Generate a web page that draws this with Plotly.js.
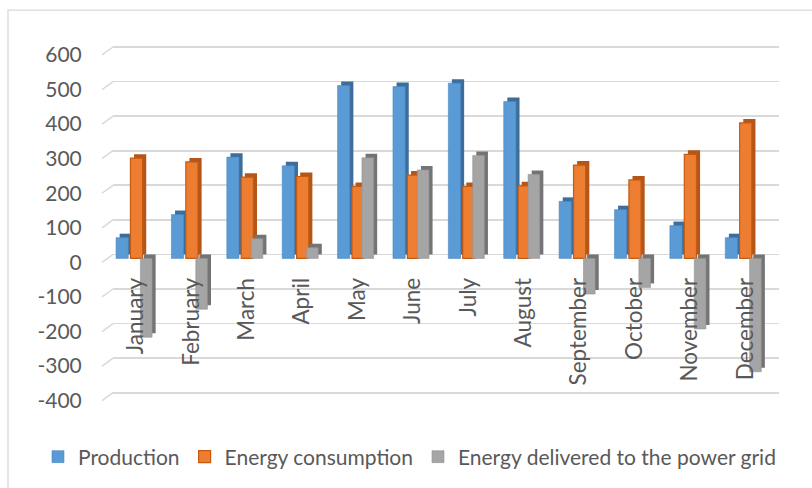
<!DOCTYPE html>
<html>
<head>
<meta charset="utf-8">
<script src="https://cdn.plot.ly/plotly-3.0.1.min.js"></script>
<style>
  html, body { margin: 0; padding: 0; background: #ffffff; }
  #chart { width: 812px; height: 488px; }
</style>
</head>
<body>
<div id="chart"></div>
<script>
// Monthly energy balance (kWh)
const months = ['January', 'February', 'March', 'April', 'May', 'June',
                'July', 'August', 'September', 'October', 'November', 'December'];
const production   = [60, 127, 293, 268, 500, 497, 507, 454, 165, 141, 95, 60];
const consumption  = [290, 279, 235, 237, 208, 241, 208, 210, 270, 227, 301, 392];
const gridDelivery = [-228, -147, 57, 31, 291, 256, 298, 243, -103, -84, -204, -328];
const yTicks = [-400, -300, -200, -100, 0, 100, 200, 300, 400, 500, 600];
const yTickText = ['-400', '-300', '-200', '-100', '0', '100', '200', '300', '400', '500', '600'];
const seriesNames = ['Production', 'Energy consumption', 'Energy delivered to the power grid'];

// Plot-area geometry (pixels) used to keep the pseudo-3D planes aligned
const W = 812, H = 488;
const M = { l: 113, r: 33, t: 30, b: 68 };
const plotTop = M.t, plotBottom = H - M.b;
const pxPerUnit = 0.3466;
function rangeForZero(zeroPx) {
  return [-(plotBottom - zeroPx) / pxPerUnit, (zeroPx - plotTop) / pxPerUnit];
}
const backZeroPx = 255;    // back wall (gridlines, column sides)
const frontZeroPx = 259;   // column faces
const labelZeroPx = 263;   // value labels on the front edge
const depthPx = 8;         // wall depth drawn on the left

const faceColors = ['#5b9bd5', '#ed7d31', '#a5a5a5'];
const sideColors = ['#3d6d9b', '#b4561a', '#747474'];
const edgeColors = ['#4a88c2', '#c55a11', '#939393'];
const offsets = [-0.36, -0.10, 0.08];
const widths = [0.22, 0.22, 0.21];
const sideShift = 0.065;
const values = [production, consumption, gridDelivery];

const traces = [];
// Column sides/tops: same values on the back plane, nudged right
values.forEach((v, i) => {
  traces.push({
    type: 'bar', x: months, y: v, xaxis: 'x', yaxis: 'y',
    offset: offsets[i] + sideShift, width: widths[i],
    marker: { color: sideColors[i], line: { width: 0 } },
    showlegend: false, hoverinfo: 'skip'
  });
});
// Column faces
values.forEach((v, i) => {
  traces.push({
    type: 'bar', x: months, y: v, xaxis: 'x', yaxis: 'y2',
    name: seriesNames[i],
    offset: offsets[i], width: widths[i],
    marker: { color: faceColors[i], line: { width: i === 1 ? 1.2 : 0.6, color: edgeColors[i] } }
  });
});
// Empty trace that carries the front-edge value axis
traces.push({ type: 'scatter', x: [], y: [], xaxis: 'x', yaxis: 'y3', showlegend: false, hoverinfo: 'skip' });

// Left wall edges joining each gridline to its value label
const shapes = yTicks.map(t => ({
  type: 'line', xref: 'paper', yref: 'y', layer: 'below',
  x0: -11 / (W - M.l - M.r), y0: t - depthPx / pxPerUnit,
  x1: 0, y1: t,
  line: { color: '#d9d9d9', width: 1.5 }
}));
// Chart frame
shapes.push({
  type: 'rect', xref: 'paper', yref: 'paper', layer: 'below',
  x0: (8 - M.l) / (W - M.l - M.r), x1: 1.3,
  y0: -0.5, y1: (plotBottom - 10) / (plotBottom - plotTop),
  line: { color: '#d9d9d9', width: 1.3 }, fillcolor: 'rgba(0,0,0,0)'
});

const font = { family: 'Lato, "Open Sans", sans-serif', color: '#595959' };

const layout = {
  width: W, height: H,
  margin: M,
  paper_bgcolor: '#ffffff', plot_bgcolor: '#ffffff',
  barmode: 'overlay',
  font: Object.assign({ size: 21 }, font),
  showlegend: true,
  legend: {
    orientation: 'h', x: (38 - M.l) / (W - M.l - M.r), xanchor: 'left',
    y: (plotBottom - 457) / (plotBottom - plotTop), yanchor: 'middle',
    font: Object.assign({ size: 21 }, font), traceorder: 'normal',
    bgcolor: 'rgba(0,0,0,0)'
  },
  xaxis: {
    type: 'category', range: [-0.415, 11.61],
    anchor: 'free', position: (plotBottom - 273) / (plotBottom - plotTop),
    tickangle: -90, ticks: '', showline: false, showgrid: false, zeroline: false,
    tickfont: Object.assign({ size: 22.5 }, font), automargin: false
  },
  yaxis: {
    range: rangeForZero(backZeroPx), tickvals: yTicks,
    showgrid: true, gridcolor: '#d9d9d9', gridwidth: 1.6,
    zeroline: false, showline: false, showticklabels: false, ticks: '',
    automargin: false
  },
  yaxis2: {
    overlaying: 'y', anchor: 'x', range: rangeForZero(frontZeroPx),
    showgrid: false, zeroline: false, showticklabels: false, ticks: ''
  },
  yaxis3: {
    overlaying: 'y', anchor: 'x', side: 'left', range: rangeForZero(labelZeroPx),
    tickvals: yTicks, ticktext: yTickText,
    showgrid: false, zeroline: false, showline: false,
    ticks: 'outside', ticklen: 26, tickcolor: 'rgba(0,0,0,0)',
    tickfont: Object.assign({ size: 21 }, font), automargin: false
  },
  shapes: shapes
};

Plotly.newPlot('chart', traces, layout, { staticPlot: true, displayModeBar: false });
</script>
</body>
</html>
